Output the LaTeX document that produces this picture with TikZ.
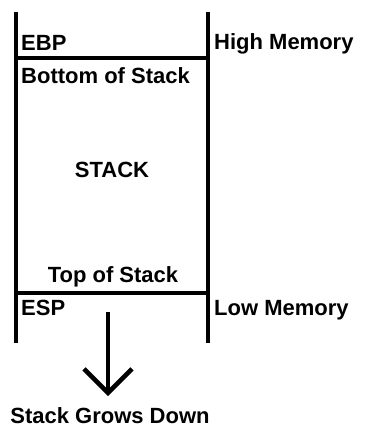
\documentclass[tikz,border=0pt]{standalone}
\usepackage{fontspec}
\setmainfont{Liberation Sans}
\usetikzlibrary{arrows.meta}
\begin{document}
\begin{tikzpicture}[
		x=1pt, y=-1pt,
		% Define styles for walls and texts
		wall/.style={line width=4.5pt},
		memtext/.style={font=\bfseries\fontsize{22}{26}\selectfont, inner sep=0pt, anchor=base west},
		midtext/.style={memtext, anchor=base},
		growarrow/.style={line width=4.5pt, -{Straight Barb[length=24pt, width=48pt, line width=4.5pt]}}
	]
	\useasboundingbox (0,0) rectangle (364,428);

	% Corners of the stack
	\coordinate (lt) at (16,12);
	\coordinate (lb) at (16,343);
	\coordinate (rt) at (208,12);
	\coordinate (rb) at (208,343);
	\coordinate (ebpl) at (16,58);
	\coordinate (ebpr) at (208,58);
	\coordinate (espl) at (16,293);
	\coordinate (espr) at (208,293);

	% Walls and dividers
	\draw[wall] (lt) -- (lb);
	\draw[wall] (rt) -- (rb);
	\draw[wall] (ebpl) -- (ebpr);
	\draw[wall] (espl) -- (espr);

	% Texts
	\node[memtext] (ebp) at (21,51) {EBP};
	\node[memtext] (high) at (214,49) {High Memory};
	\node[memtext] (bottom) at (21,83) {Bottom of Stack};
	\node[midtext] (stack) at (112,177) {STACK};
	\node[midtext] (top) at (113,282) {Top of Stack};
	\node[memtext] (esp) at (21,315) {ESP};
	\node[memtext] (low) at (214,315) {Low Memory};
	\node[midtext] (grows) at (110,423) {Stack Grows Down};

	% Growth arrow
	\coordinate (from) at (108,312);
	\coordinate (to) at (108,396);
	\draw[growarrow] (from) -- (to);
\end{tikzpicture}
\end{document}
